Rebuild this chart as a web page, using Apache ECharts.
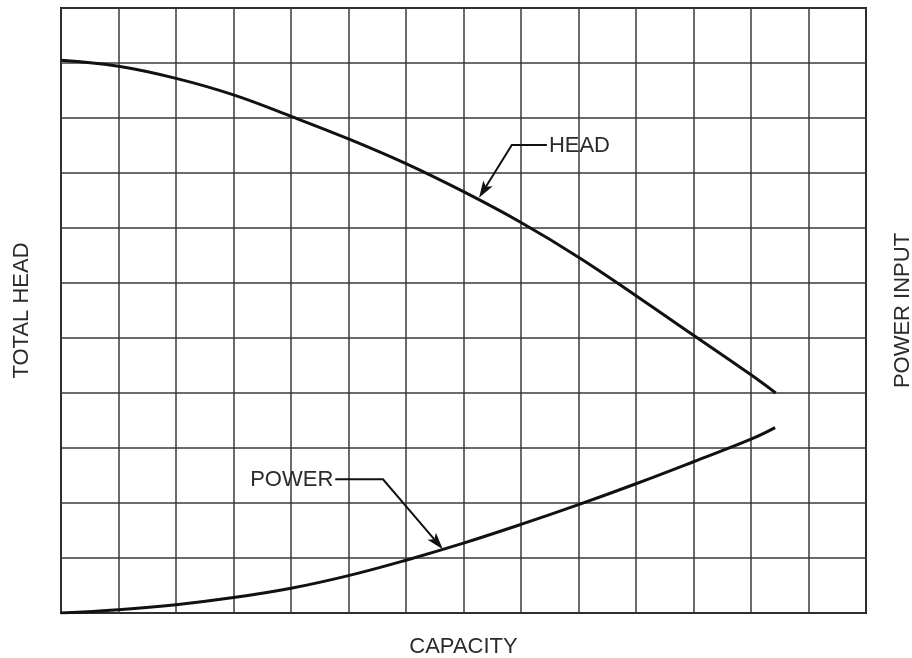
<!DOCTYPE html>
<html>
<head>
<meta charset="utf-8">
<title>Pump characteristic curves</title>
<script src="https://cdn.jsdelivr.net/npm/echarts@6/dist/echarts.min.js"></script>
<style>
  html, body { margin: 0; padding: 0; background: #fff; }
  #chart { width: 912px; height: 658px; }
</style>
</head>
<body>
<div id="chart"></div>
<script>
// Capacity runs over 14 grid divisions, head/power over 11 (arbitrary units).
const capacityDivisions = 14;
const valueDivisions = 11;

// Head curve: [capacity, head]
const headCurve = [
  [0, 10.05], [1, 9.94], [2, 9.72], [3, 9.42], [4, 9.03], [5, 8.62],
  [6, 8.17], [7, 7.66], [8, 7.10], [9, 6.47], [10, 5.77], [11, 5.05],
  [12, 4.33], [12.43, 4.0]
];

// Power input curve: [capacity, power]
const powerCurve = [
  [0, 0.0], [1, 0.06], [2, 0.15], [3, 0.28], [4, 0.45], [5, 0.68],
  [6, 0.96], [7, 1.27], [8, 1.61], [9, 1.97], [10, 2.35], [11, 2.75],
  [12, 3.16], [12.42, 3.37]
];

// Callouts: text, where the leader meets the text, the elbow, and the arrow tip on the curve
const calloutNames = ['HEAD', 'POWER'];
const calloutSides = ['left', 'right'];      // text alignment relative to the leader end
const calloutAnchors = [[8.45, 8.51], [4.77, 2.43]];
const calloutElbows = [[7.84, 8.51], [5.6, 2.43]];
const calloutTips = [[7.27, 7.55], [6.64, 1.16]];

const axisNames = { x: 'CAPACITY', left: 'TOTAL HEAD', right: 'POWER INPUT' };

const FONT = '"Liberation Sans", Arial, sans-serif';
const INK = '#111';
const TEXT = '#2b2b2b';
const FONT_SIZE = 22;

const calloutData = calloutNames.map((n, i) => ({
  name: n,
  value: [
    calloutAnchors[i][0], calloutAnchors[i][1],
    calloutElbows[i][0], calloutElbows[i][1],
    calloutTips[i][0], calloutTips[i][1]
  ]
}));

// Leader: horizontal run from the text, a bend, then a slanted run ending in a filled arrowhead
function renderCallout(params, api) {
  const i = params.dataIndex;
  const a = api.coord([api.value(0), api.value(1)]);
  const e = api.coord([api.value(2), api.value(3)]);
  const t = api.coord([api.value(4), api.value(5)]);
  const dx = t[0] - e[0], dy = t[1] - e[1];
  const len = Math.sqrt(dx * dx + dy * dy);
  const ux = dx / len, uy = dy / len;
  const headLen = 17, headHalf = 5.5;
  const base = [t[0] - ux * headLen, t[1] - uy * headLen];
  const px = -uy, py = ux;
  const side = calloutSides[i];
  return {
    type: 'group',
    children: [
      {
        type: 'polyline',
        shape: { points: [a, e, [base[0] + ux * 4, base[1] + uy * 4]] },
        style: { stroke: INK, lineWidth: 2, fill: null }
      },
      {
        type: 'polygon',
        shape: {
          points: [
            t,
            [base[0] + px * headHalf, base[1] + py * headHalf],
            [base[0] + ux * 4, base[1] + uy * 4],
            [base[0] - px * headHalf, base[1] - py * headHalf]
          ]
        },
        style: { fill: INK }
      },
      {
        type: 'text',
        x: side === 'left' ? a[0] + 2 : a[0] - 2,
        y: a[1] + 1,
        style: {
          text: calloutNames[i],
          fill: TEXT,
          font: FONT_SIZE + 'px ' + FONT,
          align: side,
          verticalAlign: 'middle'
        }
      }
    ]
  };
}

const chart = echarts.init(document.getElementById('chart'), null, { renderer: 'canvas' });

const gridLine = { show: true, lineStyle: { color: '#3a3a3a', width: 1.5 } };
const nameStyle = { fontFamily: FONT, fontSize: FONT_SIZE, color: TEXT };
const bare = {
  axisLine: { show: false }, axisTick: { show: false }, axisLabel: { show: false }
};

chart.setOption({
  animation: false,
  backgroundColor: '#fff',
  grid: {
    left: 61, top: 8, width: 805, height: 605,
    containLabel: false, outerBoundsMode: 'none',
    show: true, borderColor: '#111', borderWidth: 2, backgroundColor: 'transparent'
  },
  xAxis: Object.assign({
    type: 'value', min: 0, max: capacityDivisions, interval: 1,
    name: axisNames.x, nameLocation: 'middle', nameGap: 23,
    nameTextStyle: nameStyle,
    splitLine: gridLine
  }, bare),
  yAxis: [
    Object.assign({
      type: 'value', min: 0, max: valueDivisions, interval: 1,
      name: axisNames.left, nameLocation: 'middle', nameGap: 28, nameRotate: 90,
      nameTextStyle: nameStyle,
      splitLine: gridLine
    }, bare),
    Object.assign({
      type: 'value', position: 'right', min: 0, max: valueDivisions, interval: 1,
      name: axisNames.right, nameLocation: 'middle', nameGap: 26, nameRotate: 90,
      nameTextStyle: nameStyle,
      splitLine: { show: false }
    }, bare)
  ],
  series: [
    {
      name: 'HEAD', type: 'line', data: headCurve, smooth: 0.4, showSymbol: false,
      lineStyle: { color: INK, width: 3 }
    },
    {
      name: 'POWER', type: 'line', data: powerCurve, smooth: 0.4, showSymbol: false,
      lineStyle: { color: INK, width: 3 }
    },
    {
      type: 'custom', data: calloutData, renderItem: renderCallout, clip: false,
      silent: true
    }
  ]
});
</script>
</body>
</html>
